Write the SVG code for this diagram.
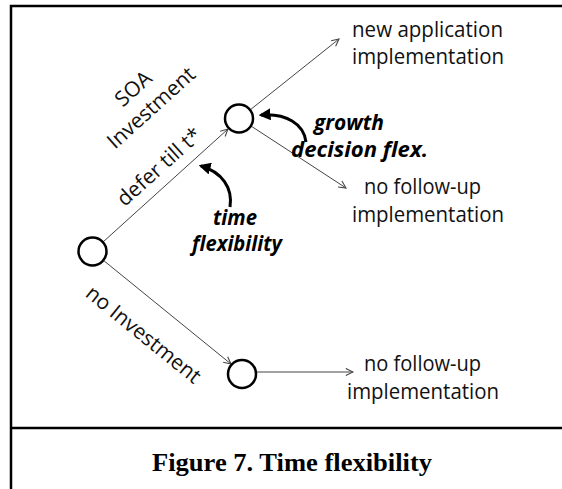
<svg xmlns="http://www.w3.org/2000/svg" width="562" height="489" viewBox="0 0 562 489">
<defs>
<style>
.t{font-family:"Open Sans","Noto Sans",sans-serif;font-size:21px;fill:#111}
.r{font-family:"Open Sans","Noto Sans",sans-serif;font-size:21px;fill:#111}
.b{font-family:"Open Sans","Noto Sans",sans-serif;font-size:21px;font-weight:bold;font-style:italic;fill:#000}
.cap{font-family:"Liberation Serif","Times New Roman",serif;font-size:26px;font-weight:bold;fill:#000}
.ln{stroke:#444;stroke-width:1;fill:none}
.cv{stroke:#000;stroke-width:3;fill:none}
.nd{fill:#fff;stroke:#000;stroke-width:2.5}
.fr{stroke:#000;stroke-width:2.5;fill:none}
</style>
<marker id="open" viewBox="0 0 10 10" refX="9" refY="5" markerWidth="9" markerHeight="9" markerUnits="userSpaceOnUse" orient="auto">
<path d="M1,1 L9,5 L1,9" fill="none" stroke="#444" stroke-width="1.2"/>
</marker>
<marker id="solid" viewBox="0 0 10 10" refX="8" refY="5" markerWidth="4" markerHeight="4" orient="auto">
<path d="M0,0 L10,5 L0,10 Z" fill="#000"/>
</marker>
</defs>
<rect width="562" height="489" fill="#fff"/>
<g id="frame">
<path class="fr" d="M11,489 L11,6 L562,6"/>
<path class="fr" d="M11,428 L562,428"/>
</g>
<g id="connectors">
<path class="ln" d="M103,242 L228,129" marker-end="url(#open)"/>
<path class="ln" d="M250,110 L339,39" marker-end="url(#open)"/>
<path class="ln" d="M251,126 L346,188" marker-end="url(#open)"/>
<path class="ln" d="M103,260 L231,364" marker-end="url(#open)"/>
<path class="ln" d="M257,372 L353,372" stroke="#666" stroke-width="1.5" marker-end="url(#open)"/>
<path class="cv" d="M230,207 C233,188 222,172 201,166" marker-end="url(#solid)"/>
<path class="cv" d="M306,142 C304,124 286,113 261,115" marker-end="url(#solid)"/>
</g>
<g id="node-root"><circle class="nd" cx="92.5" cy="251.5" r="14"/></g>
<g id="node-defer"><circle class="nd" cx="239" cy="118.5" r="14"/></g>
<g id="node-none"><circle class="nd" cx="242" cy="374" r="14"/></g>
<g id="labels">
<text class="r" text-anchor="middle" transform="translate(138,94) rotate(-42)">SOA</text>
<text class="r" text-anchor="middle" transform="translate(156,113) rotate(-42)">Investment</text>
<text class="r" text-anchor="middle" transform="translate(164,172) rotate(-42)">defer till t*</text>
<text class="r" text-anchor="middle" transform="translate(139,340) rotate(39)">no Investment</text>
</g>
<g id="outcome-new">
<text class="t" x="352" y="37" textLength="151" lengthAdjust="spacingAndGlyphs">new application</text>
<text class="t" x="352" y="63.5" textLength="152" lengthAdjust="spacingAndGlyphs">implementation</text>
</g>
<g id="outcome-nofollow1">
<text class="t" x="364" y="194" textLength="117" lengthAdjust="spacingAndGlyphs">no follow-up</text>
<text class="t" x="352" y="222" textLength="152" lengthAdjust="spacingAndGlyphs">implementation</text>
</g>
<g id="outcome-nofollow2">
<text class="t" x="364" y="371" textLength="117" lengthAdjust="spacingAndGlyphs">no follow-up</text>
<text class="t" x="347" y="399" textLength="152" lengthAdjust="spacingAndGlyphs">implementation</text>
</g>
<g id="growth-label">
<text class="b" x="314" y="130" textLength="70" lengthAdjust="spacingAndGlyphs">growth</text>
<text class="b" x="291" y="157" textLength="137" lengthAdjust="spacingAndGlyphs">decision flex.</text>
</g>
<g id="time-label">
<text class="b" x="213" y="225" textLength="44" lengthAdjust="spacingAndGlyphs">time</text>
<text class="b" x="192" y="251" textLength="90" lengthAdjust="spacingAndGlyphs">flexibility</text>
</g>
<g id="caption">
<text class="cap" x="152" y="471" textLength="280" lengthAdjust="spacingAndGlyphs">Figure 7. Time flexibility</text>
</g>
</svg>
